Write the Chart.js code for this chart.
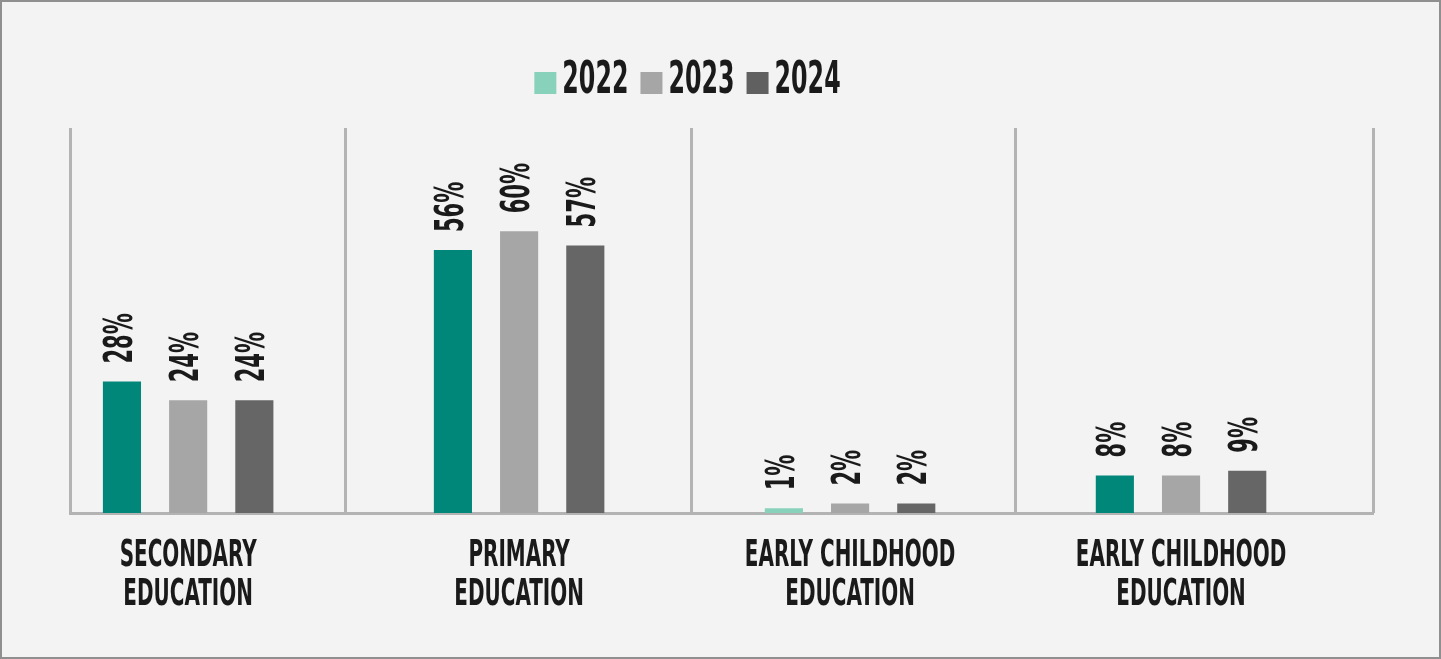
<!DOCTYPE html>
<html>
<head>
<meta charset="utf-8">
<script src="https://cdn.jsdelivr.net/npm/chart.js@4/dist/chart.umd.min.js"></script>
<style>
  html, body { margin: 0; padding: 0; background: #f3f3f3; }
  #wrap {
    width: 1441px; height: 659px; box-sizing: border-box;
    border: 2px solid #8f8f8f; position: relative; background: #f3f3f3;
  }
  #chart1 { position: absolute; left: 0; top: 0; }
</style>
</head>
<body>
<div id="wrap"><canvas id="chart1" width="1437" height="655"></canvas></div>
<script>
// categories and yearly shares (%)
var categories = [
    "SECONDARY EDUCATION",
    "PRIMARY EDUCATION",
    "EARLY CHILDHOOD EDUCATION",
    "EARLY CHILDHOOD EDUCATION"
];
var years = ["2022", "2023", "2024"];
var values2022 = [28, 56, 1, 8];
var values2023 = [24, 60, 2, 8];
var values2024 = [24, 57, 2, 9];

var teal = "#00877a";
var lightTeal = "#88d1bb";
var barColors2022 = [teal, teal, lightTeal, teal];
var legendColors = [lightTeal, "#a6a6a6", "#606060"];
var textColor = "#1a1a1a";
var lineColor = "#b3b3b3";

// dividers between the groups, in x units
var dividers = [-0.357, 0.475, 1.52, 2.5, 3.58];

var fontFamily = "'DejaVu Sans Condensed', 'DejaVu Sans', sans-serif";
Chart.defaults.font.family = fontFamily;
Chart.defaults.color = textColor;

// squeeze factor to get a tall narrow headline look
var squeeze = 0.6;

function points(vals) {
    return vals.map(function (v, i) { return { x: i, y: v }; });
}

// "EARLY CHILDHOOD EDUCATION" -> ["EARLY CHILDHOOD", "EDUCATION"]
function twoLines(label) {
    var k = label.lastIndexOf(" ");
    return [label.slice(0, k), label.slice(k + 1)];
}

function narrowText(ctx, text, x, y) {
    ctx.save();
    ctx.translate(x, y);
    ctx.scale(squeeze, 1);
    ctx.fillText(text, 0, 0);
    ctx.restore();
}

var headlineText = {
    id: "headlineText",
    afterDraw: function (chart) {
        var ctx = chart.ctx;
        var area = chart.chartArea;
        var xs = chart.scales.x;
        ctx.save();
        ctx.fillStyle = textColor;

        // legend
        ctx.font = "bold 44px " + fontFamily;
        ctx.textAlign = "left";
        ctx.textBaseline = "alphabetic";
        var box = 22, gap = 6, spacing = 12;
        var widths = years.map(function (y) { return ctx.measureText(y).width * squeeze; });
        var total = 0;
        widths.forEach(function (w) { total += box + gap + w + spacing; });
        total -= spacing;
        var lx = (area.left + area.right) / 2 - 34 - total / 2;
        var base = 91;
        years.forEach(function (y, i) {
            ctx.fillStyle = legendColors[i];
            ctx.fillRect(lx, base - box + 1, box, box);
            ctx.fillStyle = textColor;
            narrowText(ctx, y, lx + box + gap, base);
            lx += box + gap + widths[i] + spacing;
        });

        // category labels under the axis
        ctx.font = "bold 37px " + fontFamily;
        ctx.textAlign = "center";
        categories.forEach(function (c, i) {
            var px = xs.getPixelForValue(i);
            twoLines(c).forEach(function (line, j) {
                narrowText(ctx, line, px, area.bottom + 53 + j * 39);
            });
        });
        ctx.restore();
    },
    // rotated value labels above bars
    afterDatasetsDraw: function (chart) {
        var ctx = chart.ctx;
        ctx.save();
        ctx.font = "bold 39px " + fontFamily;
        ctx.fillStyle = textColor;
        ctx.textAlign = "left";
        ctx.textBaseline = "middle";
        chart.data.datasets.forEach(function (ds, di) {
            chart.getDatasetMeta(di).data.forEach(function (bar, i) {
                ctx.save();
                ctx.translate(bar.x, bar.y - 18);
                ctx.rotate(-Math.PI / 2);
                ctx.scale(squeeze, 1);
                ctx.fillText(ds.data[i].y + "%", 0, 0);
                ctx.restore();
            });
        });
        ctx.restore();
    }
};

new Chart("chart1", {
    type: "bar",
    data: {
        datasets: [
            { label: years[0], data: points(values2022), backgroundColor: barColors2022 },
            { label: years[1], data: points(values2023), backgroundColor: "#a6a6a6" },
            { label: years[2], data: points(values2024), backgroundColor: "#666666" }
        ]
    },
    options: {
        responsive: false,
        animation: false,
        categoryPercentage: 0.6,
        barPercentage: 0.576,
        layout: { padding: { left: 68, right: 66, top: 126, bottom: 144 } },
        plugins: {
            tooltip: { enabled: false },
            legend: { display: false }
        },
        scales: {
            x: {
                type: "linear",
                offset: false,
                min: dividers[0],
                max: dividers[dividers.length - 1],
                afterBuildTicks: function (axis) {
                    axis.ticks = categories.map(function (c, i) { return { value: i }; });
                },
                grid: { display: false, drawTicks: false, offset: false },
                border: { display: true, color: lineColor, width: 3 },
                ticks: { display: false }
            },
            x2: {
                type: "linear",
                position: "top",
                offset: false,
                min: dividers[0],
                max: dividers[dividers.length - 1],
                afterBuildTicks: function (axis) {
                    axis.ticks = dividers.map(function (v) { return { value: v }; });
                },
                grid: { drawTicks: false, offset: false, lineWidth: 3, color: lineColor },
                border: { display: false },
                ticks: { display: false }
            },
            y: {
                display: false,
                min: 0,
                max: 82
            }
        }
    },
    plugins: [headlineText]
});
</script>
</body>
</html>
